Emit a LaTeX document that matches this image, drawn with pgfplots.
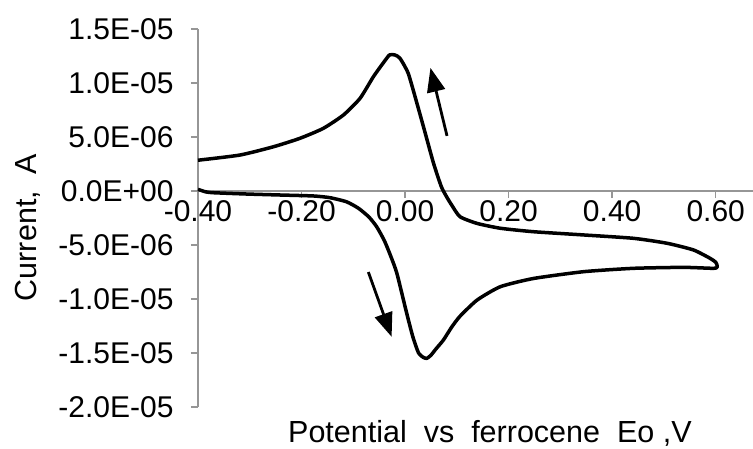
\documentclass[border=0pt]{standalone}
\usepackage{pgfplots}
\pgfplotsset{compat=1.18}
\usepackage{fontspec}
\setmainfont{Liberation Sans}
\usetikzlibrary{arrows.meta}
\definecolor{axisgray}{RGB}{150,150,150}
\begin{document}
\begin{tikzpicture}
\useasboundingbox (-198bp,-42bp) rectangle (555bp,407bp);
\begin{axis}[
  at={(0,0)}, anchor=south west,
  scale only axis, width=555bp, height=378bp,
  xmin=-0.4, xmax=0.672, ymin=-2e-5, ymax=1.5e-5,
  axis x line=middle, axis y line=left,
  axis line style={draw=axisgray, line width=1.5bp, -},
  hide obscured x ticks=false, hide obscured y ticks=false,
  xtick={-0.4,-0.2,0,0.2,0.4,0.6},
  xticklabels={-0.40,-0.20,0.00,0.20,0.40,0.60},
  ytick={-2e-5,-1.5e-5,-1e-5,-5e-6,0,5e-6,1e-5,1.5e-5},
  yticklabels={-2.0E-05,-1.5E-05,-1.0E-05,-5.0E-06,0.0E+00,5.0E-06,1.0E-05,1.5E-05},
  scaled x ticks=false, scaled y ticks=false,
  tick align=outside, major tick length=7bp,
  tick style={draw=axisgray, line width=1.5bp},
  tick label style={font=\fontsize{30bp}{36bp}\selectfont},
  xticklabel style={anchor=base, yshift=-23bp},
  yticklabel style={anchor=east, xshift=-14bp},
  every axis x label/.style={at={(axis description cs:0.526,-0.0926)}, anchor=base, font=\fontsize{30.5bp}{36bp}\selectfont},
  every axis y label/.style={at={(axis description cs:-0.2906,0.475)}, anchor=base, rotate=90, font=\fontsize{30.5bp}{36bp}\selectfont},
  xlabel={Potential\ \ vs\ \ ferrocene\ \ Eo\ ,V},
  ylabel={Current,\ \ A},
  clip=false,
]
\addplot[black, line width=3.5bp, line join=round, smooth, tension=0.35] coordinates {
(-0.400, 0.15e-6)
(-0.385, -0.08e-6)
(-0.370, -0.16e-6)
(-0.306, -0.28e-6)
(-0.242, -0.37e-6)
(-0.177, -0.46e-6)
(-0.145, -0.62e-6)
(-0.113, -1.0e-6)
(-0.090, -1.6e-6)
(-0.070, -2.4e-6)
(-0.055, -3.3e-6)
(-0.040, -4.6e-6)
(-0.028, -6.0e-6)
(-0.016, -7.6e-6)
(0.003, -11.3e-6)
(0.015, -13.5e-6)
(0.026, -15.0e-6)
(0.035, -15.4e-6)
(0.042, -15.5e-6)
(0.050, -15.2e-6)
(0.060, -14.6e-6)
(0.074, -13.8e-6)
(0.090, -12.6e-6)
(0.106, -11.6e-6)
(0.139, -10.1e-6)
(0.184, -8.86e-6)
(0.248, -8.1e-6)
(0.345, -7.47e-6)
(0.441, -7.16e-6)
(0.538, -7.07e-6)
(0.596, -7.16e-6)
(0.603, -7.0e-6)
(0.600, -6.6e-6)
(0.589, -6.23e-6)
(0.557, -5.46e-6)
(0.506, -4.84e-6)
(0.441, -4.38e-6)
(0.345, -4.07e-6)
(0.248, -3.77e-6)
(0.184, -3.45e-6)
(0.139, -3.0e-6)
(0.106, -2.38e-6)
(0.090, -1.3e-6)
(0.081, -0.6e-6)
(0.070, 0.4e-6)
(0.055, 2.56e-6)
(0.039, 5.34e-6)
(0.023, 8.1e-6)
(0.006, 10.9e-6)
(-0.010, 12.3e-6)
(-0.020, 12.6e-6)
(-0.030, 12.6e-6)
(-0.040, 12.0e-6)
(-0.061, 10.6e-6)
(-0.087, 8.58e-6)
(-0.119, 7.04e-6)
(-0.158, 5.8e-6)
(-0.203, 4.88e-6)
(-0.254, 4.1e-6)
(-0.319, 3.33e-6)
(-0.400, 2.85e-6)
};
\addplot[black, line width=2.8bp, -{Triangle[length=24bp,width=18bp]}] coordinates {(0.081,5.1e-6) (0.049,11.4e-6)};
\addplot[black, line width=2.8bp, -{Triangle[length=24bp,width=18bp]}] coordinates {(-0.071,-7.5e-6) (-0.026,-13.5e-6)};
\end{axis}
\end{tikzpicture}
\end{document}
